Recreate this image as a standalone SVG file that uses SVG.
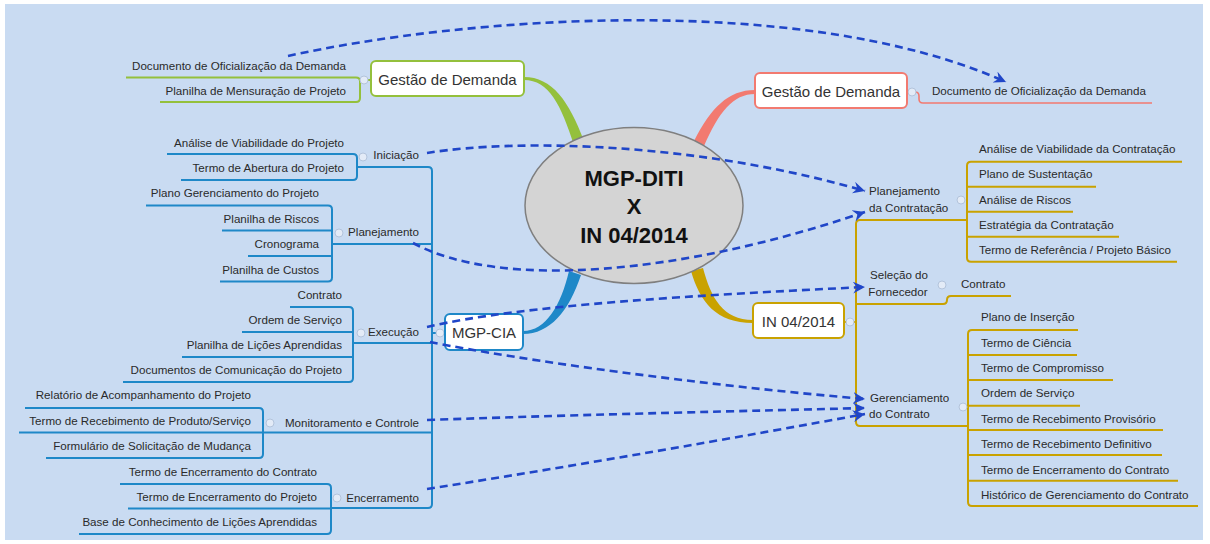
<svg xmlns="http://www.w3.org/2000/svg" width="1210" height="544" viewBox="0 0 1210 544">
<defs>
<style>
text{font-family:"Liberation Sans",Arial,sans-serif;fill:#2a2a2a}
.c{font-size:11.6px}
.e{text-anchor:end}
.m{text-anchor:middle}
.big{font-size:15px;fill:#333;text-anchor:middle}
.title{font-size:22px;font-weight:bold;fill:#111;text-anchor:middle}
.bl{fill:none;stroke:#1e88c8;stroke-width:2}
.gd{fill:none;stroke:#c9a200;stroke-width:2}
.gr{fill:none;stroke:#94c03c;stroke-width:2}
.rd{fill:none;stroke:#f27a70;stroke-width:1.6}
.dash{fill:none;stroke:#2046c8;stroke-width:2.6;stroke-dasharray:8 5;marker-end:url(#ah)}
.tog{fill:#e3ebf7;stroke:#b3c4dc;stroke-width:1}
.box{fill:#fff;stroke-width:2}
</style>
<marker id="ah" markerUnits="userSpaceOnUse" markerWidth="14" markerHeight="12" refX="12" refY="6" orient="auto">
<path d="M0,0 L12,6 L0,12 L4,6 Z" fill="#2046c8"/>
</marker>
</defs>
<rect x="0" y="0" width="1210" height="544" fill="#ffffff"/>
<rect x="5" y="4" width="1198" height="536" fill="#c9dbf2"/>

<g id="branches">
<path d="M524 77 C552 77 569 101 584 141 L574 145 C561 105 549 80 524 80 Z" fill="#94c03c"/>
<path d="M755 90 C728 90 711 108 694 141 L704 146 C719 112 733 94 755 94 Z" fill="#f27a70"/>
<path d="M523 331 C546 331 561 305 569 271 L581 275 C569 311 550 334 523 334 Z" fill="#1e88c8"/>
<path d="M691 271 C700 302 716 323 753 323 L753 320 C723 320 711 298 703 268 Z" fill="#c9a200"/>
</g>

<g id="center">
<ellipse cx="634" cy="205.5" rx="109" ry="78" fill="#d4d4d4" stroke="#7f7f7f" stroke-width="1.5"/>
<text class="title" x="634" y="186">MGP-DITI</text>
<text class="title" x="634" y="214">X</text>
<text class="title" x="634" y="242.5">IN 04/2014</text>
</g>

<g id="gestao-left">
<path class="gr" d="M126 77.5 H356 Q360 77.5 360 81.5 V98 Q360 102 356 102 H160"/>
<path class="gr" d="M360 80 H371"/>
<text class="c e" x="346" y="70">Documento de Oficialização da Demanda</text>
<text class="c e" x="346" y="95">Planilha de Mensuração de Projeto</text>
<circle class="tog" cx="364" cy="80" r="4"/>
<rect class="box" x="371" y="61" width="153" height="35" rx="5" stroke="#94c03c"/>
<text class="big" x="447.5" y="84.5">Gestão de Demanda</text>
</g>

<g id="gestao-right">
<path class="rd" d="M907 92 H915 Q919 92 919 96 V99 Q919 103 923 103 H1152"/>
<circle class="tog" cx="912" cy="92" r="4"/>
<rect class="box" x="755" y="73" width="152" height="35" rx="5" stroke="#f27a70"/>
<text class="big" x="831" y="97">Gestão de Demanda</text>
<text class="c" x="932" y="95">Documento de Oficialização da Demanda</text>
</g>

<g id="mgp-cia">
<path class="bl" d="M357 167 H428 Q432 167 432 171 V504 Q432 508 428 508 H331"/>
<path class="bl" d="M332 244 H432 M353 343 H432 M263 432.5 H432 M432 333 H445"/>
<circle class="tog" cx="440" cy="333" r="4"/>
<rect class="box" x="445" y="314" width="78" height="36" rx="5" stroke="#1e88c8"/>
<text class="big" x="484" y="338">MGP-CIA</text>
</g>

<g id="iniciacao">
<path class="bl" d="M167 154 H353 Q357 154 357 158 V176 Q357 180 353 180 H181"/>
<text class="c e" x="344" y="147">Análise de Viabilidade do Projeto</text>
<text class="c e" x="344" y="172">Termo de Abertura do Projeto</text>
<circle class="tog" cx="363" cy="157" r="4"/>
<text class="c e" x="419" y="159">Iniciação</text>
</g>

<g id="planejamento">
<path class="bl" d="M146 205.5 H328 Q332 205.5 332 209.5 V277.5 Q332 281.5 328 281.5 H220 M222 230.5 H332 M248 256 H332"/>
<text class="c e" x="319" y="197">Plano Gerenciamento do Projeto</text>
<text class="c e" x="319" y="223">Planilha de Riscos</text>
<text class="c e" x="319" y="248">Cronograma</text>
<text class="c e" x="319" y="274">Planilha de Custos</text>
<circle class="tog" cx="339" cy="233" r="4"/>
<text class="c e" x="419" y="236">Planejamento</text>
</g>

<g id="execucao">
<path class="bl" d="M290 307 H349 Q353 307 353 311 V378 Q353 382 349 382 H123 M242 332 H353 M182 357 H353"/>
<text class="c e" x="342" y="299">Contrato</text>
<text class="c e" x="342" y="324">Ordem de Serviço</text>
<text class="c e" x="342" y="349">Planilha de Lições Aprendidas</text>
<text class="c e" x="342" y="374">Documentos de Comunicação do Projeto</text>
<circle class="tog" cx="361" cy="333" r="4"/>
<text class="c e" x="419" y="336">Execução</text>
</g>

<g id="monitoramento">
<path class="bl" d="M25 408 H259 Q263 408 263 412 V454 Q263 458 259 458 H46 M19 432.5 H263"/>
<text class="c e" x="251" y="399">Relatório de Acompanhamento do Projeto</text>
<text class="c e" x="251" y="425">Termo de Recebimento de Produto/Serviço</text>
<text class="c e" x="251" y="450">Formulário de Solicitação de Mudança</text>
<circle class="tog" cx="270" cy="423" r="4"/>
<text class="c e" x="419" y="427">Monitoramento e Controle</text>
</g>

<g id="encerramento">
<path class="bl" d="M120 484 H327 Q331 484 331 488 V530 Q331 534 327 534 H79 M128 508.5 H331"/>
<text class="c e" x="317" y="476">Termo de Encerramento do Contrato</text>
<text class="c e" x="317" y="501">Termo de Encerramento do Projeto</text>
<text class="c e" x="317" y="526">Base de Conhecimento de Lições Aprendidas</text>
<circle class="tog" cx="337" cy="498" r="4"/>
<text class="c e" x="419" y="502">Encerramento</text>
</g>

<g id="in2014">
<path class="gd" d="M967 220 H860 Q856 220 856 224 V422 Q856 426 860 426 H968"/>
<path class="gd" d="M844 322 H856"/>
<circle class="tog" cx="850" cy="322" r="4"/>
<rect class="box" x="753" y="303" width="91" height="35" rx="5" stroke="#c9a200"/>
<text class="big" x="798.5" y="327">IN 04/2014</text>
</g>

<g id="planejamento-contratacao">
<path class="gd" d="M1182 161.7 H971 Q967 161.7 967 165.7 V257.7 Q967 261.7 971 261.7 H1177 M967 186.7 H1096 M967 211.7 H1073 M967 236.7 H1119"/>
<text class="c" x="869" y="195">Planejamento</text>
<text class="c" x="869" y="212">da Contratação</text>
<circle class="tog" cx="961" cy="200" r="4"/>
<text class="c" x="979" y="153">Análise de Viabilidade da Contratação</text>
<text class="c" x="979" y="178">Plano de Sustentação</text>
<text class="c" x="979" y="204">Análise de Riscos</text>
<text class="c" x="979" y="229">Estratégia da Contratação</text>
<text class="c" x="979" y="254">Termo de Referência / Projeto Básico</text>
</g>

<g id="selecao">
<path class="gd" d="M856 304 H943 Q947 304 947 300 Q947 296 951 296 H1011"/>
<text class="c m" x="899" y="279">Seleção do</text>
<text class="c m" x="898" y="296">Fornecedor</text>
<circle class="tog" cx="942" cy="285" r="4"/>
<text class="c" x="961" y="288">Contrato</text>
</g>

<g id="gerenciamento">
<path class="gd" d="M1078 330 H972 Q968 330 968 334 V502 Q968 506 972 506 H1198 M968 355 H1077 M968 380 H1113 M968 405.7 H1080 M968 430 H1163 M968 455 H1162 M968 480.7 H1178"/>
<text class="c" x="870" y="402">Gerenciamento</text>
<text class="c" x="869" y="418">do Contrato</text>
<circle class="tog" cx="963" cy="407" r="4"/>
<text class="c" x="981" y="321">Plano de Inserção</text>
<text class="c" x="981" y="347">Termo de Ciência</text>
<text class="c" x="981" y="372">Termo de Compromisso</text>
<text class="c" x="981" y="397">Ordem de Serviço</text>
<text class="c" x="981" y="423">Termo de Recebimento Provisório</text>
<text class="c" x="981" y="448">Termo de Recebimento Definitivo</text>
<text class="c" x="981" y="474">Termo de Encerramento do Contrato</text>
<text class="c" x="981" y="499">Histórico de Gerenciamento do Contrato</text>
</g>

<g id="connectors">
<path class="dash" d="M288 56 C460 18 800 -10 1006 82"/>
<path class="dash" d="M427 153 C520 138 700 143 865 191"/>
<path class="dash" d="M413 243 C500 290 680 275 865 212"/>
<path class="dash" d="M427 327 C520 305 700 295 865 287"/>
<path class="dash" d="M430 342 C520 360 700 385 865 399"/>
<path class="dash" d="M427 420 C600 414 750 411 865 408"/>
<path class="dash" d="M427 489 C580 465 740 437 865 414"/>
</g>
</svg>
